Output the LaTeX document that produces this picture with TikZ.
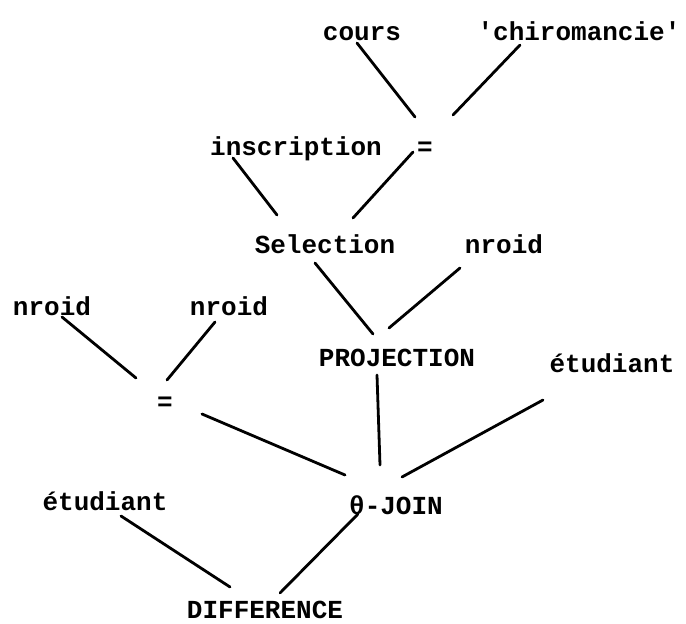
\documentclass[tikz,border=0pt]{standalone}
\usepackage{fontspec}
\setmonofont{Liberation Mono}
\begin{document}
\begin{tikzpicture}[x=1pt,y=-1pt,
  lbl/.style={inner sep=0pt,anchor=base,font=\ttfamily\bfseries\fontsize{26}{28}\selectfont},
  br/.style={line width=2.8pt,line cap=round}]
\useasboundingbox (0,0) rectangle (686,624);
% nodes
\node[lbl] (cours) at (362,40) {cours};
\node[lbl] (chiro) at (579,40) {'chiromancie'};
\node[lbl] (insc) at (296,155) {inscription};
\node[lbl] (eqa) at (425,155) {=};
\node[lbl] (sel) at (325,253) {Selection};
\node[lbl] (nrr) at (504,253) {nroid};
\node[lbl] (nrl) at (52,315) {nroid};
\node[lbl] (nrm) at (229,315) {nroid};
\node[lbl] (proj) at (397,366) {PROJECTION};
\node[lbl] (etr) at (612,372) {étudiant};
\node[lbl] (eqb) at (165,410) {=};
\node[lbl] (etl) at (105,510) {étudiant};
\node[lbl] (join) at (396,514) {θ-JOIN};
\node[lbl] (diff) at (265,618) {DIFFERENCE};
% connector end points
\coordinate (cours-s) at (357,43);
\coordinate (eqa-n1) at (415,117);
\coordinate (chiro-s) at (520,45);
\coordinate (eqa-n2) at (453,115);
\coordinate (insc-s) at (233,158);
\coordinate (sel-n1) at (277,215);
\coordinate (eqa-s) at (413,152);
\coordinate (sel-n2) at (353,218);
\coordinate (sel-s) at (315,263);
\coordinate (proj-n1) at (373,334);
\coordinate (nrr-s) at (460,268);
\coordinate (proj-n2) at (389,328);
\coordinate (nrl-s) at (62,317);
\coordinate (eqb-n1) at (136,378);
\coordinate (nrm-s) at (215,322);
\coordinate (eqb-n2) at (167,380);
\coordinate (eqb-s) at (202,414);
\coordinate (join-n1) at (345,475);
\coordinate (proj-s) at (377,375);
\coordinate (join-n2) at (380,465);
\coordinate (etr-s) at (543,400);
\coordinate (join-n3) at (402,477);
\coordinate (etl-s) at (121,516);
\coordinate (diff-n1) at (230,587);
\coordinate (join-s) at (358,514);
\coordinate (diff-n2) at (280,593);
% connectors
\draw[br] (cours-s) -- (eqa-n1);
\draw[br] (chiro-s) -- (eqa-n2);
\draw[br] (insc-s) -- (sel-n1);
\draw[br] (eqa-s) -- (sel-n2);
\draw[br] (sel-s) -- (proj-n1);
\draw[br] (nrr-s) -- (proj-n2);
\draw[br] (nrl-s) -- (eqb-n1);
\draw[br] (nrm-s) -- (eqb-n2);
\draw[br] (eqb-s) -- (join-n1);
\draw[br] (proj-s) -- (join-n2);
\draw[br] (etr-s) -- (join-n3);
\draw[br] (etl-s) -- (diff-n1);
\draw[br] (join-s) -- (diff-n2);
\end{tikzpicture}
\end{document}
